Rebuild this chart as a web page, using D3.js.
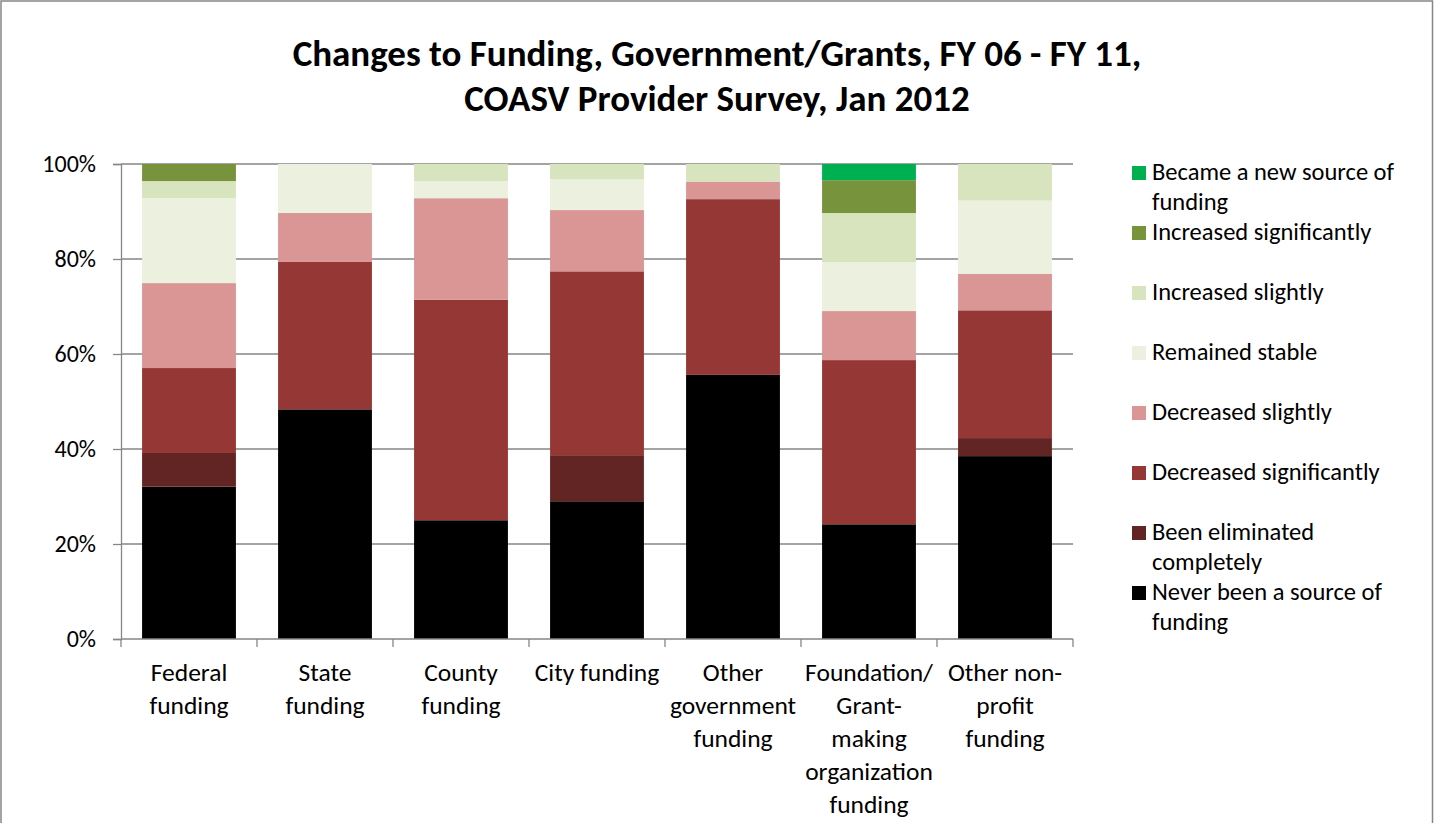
<!DOCTYPE html>
<html>
<head>
<meta charset="utf-8">
<script src="https://cdn.jsdelivr.net/npm/d3@7"></script>
<style>
  html, body { margin: 0; padding: 0; background: #fff; }
  svg { display: block; }
  text { font-family: Carlito, Calibri, Lato, sans-serif; fill: #000; }
</style>
</head>
<body>
<svg id="chart" width="1434" height="823"></svg>
<script>
// Funding sources (x categories), with the wrapped lines used for their labels
const categories = [
  "Federal funding", "State funding", "County funding", "City funding",
  "Other government funding", "Foundation/ Grant-making organization funding",
  "Other non-profit funding"
];
const categoryLines = [
  ["Federal", "funding"], ["State", "funding"], ["County", "funding"], ["City funding"],
  ["Other", "government", "funding"],
  ["Foundation/", "Grant-", "making", "organization", "funding"],
  ["Other non-", "profit", "funding"]
];

// Share of respondents (%) per answer, stacked bottom to top
const neverSource   = [32.1, 48.3, 25.0, 29.0, 55.6, 24.1, 38.5];
const eliminated    = [ 7.1,  0.0,  0.0,  9.7,  0.0,  0.0,  3.8];
const decreasedSig  = [17.9, 31.0, 46.4, 38.7, 37.0, 34.5, 26.9];
const decreasedSl   = [17.9, 10.3, 21.4, 12.9,  3.7, 10.3,  7.7];
const remained      = [17.9, 10.3,  3.6,  6.5,  0.0, 10.3, 15.4];
const increasedSl   = [ 3.6,  0.0,  3.6,  3.2,  3.7, 10.3,  7.7];
const increasedSig  = [ 3.6,  0.0,  0.0,  0.0,  0.0,  6.9,  0.0];
const newSource     = [ 0.0,  0.0,  0.0,  0.0,  0.0,  3.4,  0.0];

const seriesNames = [
  "Never been a source of funding", "Been eliminated completely",
  "Decreased significantly", "Decreased slightly", "Remained stable",
  "Increased slightly", "Increased significantly", "Became a new source of funding"
];
const seriesValues = [neverSource, eliminated, decreasedSig, decreasedSl,
                      remained, increasedSl, increasedSig, newSource];
const seriesColors = ["#000000", "#632523", "#953735", "#D99694",
                      "#EBF1DE", "#D7E4BD", "#77933C", "#00B050"];
// Legend entries as wrapped lines, top to bottom
const legendLines = [
  ["Became a new source of", "funding"], ["Increased significantly"], ["Increased slightly"],
  ["Remained stable"], ["Decreased slightly"], ["Decreased significantly"],
  ["Been eliminated", "completely"], ["Never been a source of", "funding"]
];
const yTicks = [0, 0.2, 0.4, 0.6, 0.8, 1.0];
const titleLines = ["Changes to Funding, Government/Grants, FY 06 - FY 11,",
                    "COASV Provider Survey, Jan 2012"];

// Table for the stack layout
const table = categories.map((c, i) => {
  const row = { category: c };
  seriesNames.forEach((s, k) => row[s] = seriesValues[k][i]);
  return row;
});

const W = 1434, H = 823;
const plot = { left: 121, right: 1073, top: 164, bottom: 639 };
const svg = d3.select("#chart");
const axisGray = "#868686";

// Chart frame
svg.append("rect")
  .attr("x", 1).attr("y", 1).attr("width", W - 2.5).attr("height", H + 10)
  .attr("fill", "#fff").attr("stroke", axisGray).attr("stroke-width", 1.5);

// Title
svg.append("g").selectAll("text").data(titleLines).join("text")
  .attr("x", W / 2).attr("y", (d, i) => 66 + i * 45)
  .attr("text-anchor", "middle")
  .style("font-size", "37px").style("font-weight", "bold")
  .text(d => d);

const x = d3.scaleBand().domain(categories)
  .range([plot.left, plot.right]).paddingInner(0.31).paddingOuter(0.155);
const y = d3.scaleLinear().domain([0, 1]).range([plot.bottom, plot.top]);

// Horizontal gridlines
svg.append("g").selectAll("line").data(yTicks.slice(1)).join("line")
  .attr("x1", plot.left).attr("x2", plot.right)
  .attr("y1", d => y(d)).attr("y2", d => y(d))
  .attr("stroke", axisGray).attr("stroke-width", 1.3);

// Stacked bars (100% stacked)
const stack = d3.stack().keys(seriesNames).offset(d3.stackOffsetExpand);
const layers = stack(table);
svg.append("g").selectAll("g").data(layers).join("g")
  .attr("fill", (d, i) => seriesColors[i])
  .selectAll("rect").data(d => d).join("rect")
  .attr("x", d => x(d.data.category))
  .attr("width", x.bandwidth())
  .attr("y", d => y(d[1]))
  .attr("height", d => Math.max(0, y(d[0]) - y(d[1])));

// Y axis
const yAxis = svg.append("g").attr("transform", `translate(${plot.left},0)`)
  .call(d3.axisLeft(y).tickValues(yTicks).tickFormat(d3.format(".0%")).tickSize(8).tickPadding(17));
yAxis.select(".domain").attr("stroke", axisGray).attr("stroke-width", 1.3);
yAxis.selectAll(".tick line").attr("stroke", axisGray).attr("stroke-width", 1.3);
yAxis.selectAll(".tick text").style("font-size", "24px").attr("fill", "#000")
  .style("font-family", "Carlito, Calibri, Lato, sans-serif");

// X axis line and category boundary ticks
const xAxisG = svg.append("g");
xAxisG.append("line")
  .attr("x1", plot.left).attr("x2", plot.right)
  .attr("y1", plot.bottom).attr("y2", plot.bottom)
  .attr("stroke", axisGray).attr("stroke-width", 1.3);
const bounds = categories.map(c => x(c) - x.step() * x.paddingInner() / 2)
  .concat([plot.right]);
xAxisG.selectAll("line.b").data(bounds).join("line").attr("class", "b")
  .attr("x1", d => d).attr("x2", d => d)
  .attr("y1", plot.bottom).attr("y2", plot.bottom + 8)
  .attr("stroke", axisGray).attr("stroke-width", 1.3);

// Category labels
const catG = xAxisG.selectAll("g.cat").data(categories).join("g").attr("class", "cat")
  .attr("transform", c => `translate(${x(c) + x.bandwidth() / 2},0)`);
catG.selectAll("text").data((c, i) => categoryLines[i]).join("text")
  .attr("x", 0).attr("y", (d, j) => 681 + j * 33)
  .attr("text-anchor", "middle")
  .style("font-size", "25.5px")
  .text(d => d);

// Legend
const legendTop = 166, legendStep = 60;
const legend = svg.append("g");
const items = legend.selectAll("g").data(legendLines).join("g")
  .attr("transform", (d, i) => `translate(1132,${legendTop + i * legendStep})`);
items.append("rect")
  .attr("width", 14).attr("height", 14)
  .attr("fill", (d, i) => seriesColors[seriesColors.length - 1 - i]);
items.selectAll("text").data(d => d).join("text")
  .attr("x", 20).attr("y", (d, j) => 14 + j * 30)
  .style("font-size", "24.5px")
  .text(d => d);
</script>
</body>
</html>
